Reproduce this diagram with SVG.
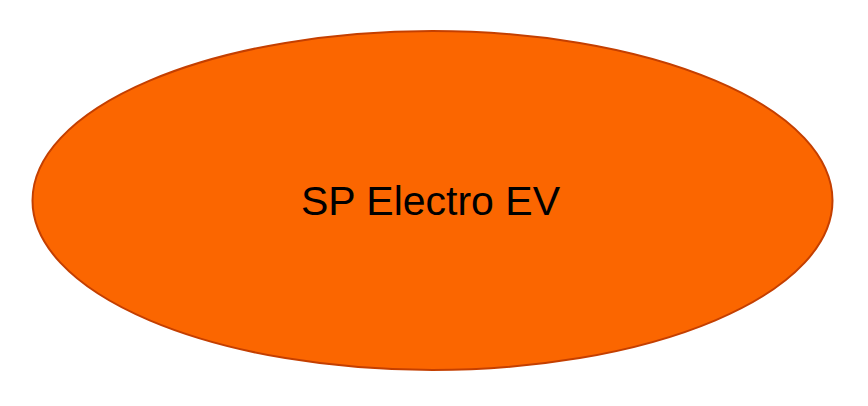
<svg xmlns="http://www.w3.org/2000/svg" width="868" height="406" viewBox="0 0 868 406">
<style>
.node{fill:#fb6600;stroke:#c43f00;stroke-width:2}
.lbl{font-family:"Liberation Sans",Arial,sans-serif;font-size:41px;fill:#000;text-anchor:middle}
</style>
<rect width="868" height="406" fill="#ffffff"/>
<g id="connectors"></g>
<g id="node-sp-electro-ev">
<ellipse class="node" cx="432.5" cy="200.5" rx="400" ry="169.5"/>
<text class="lbl" x="430.5" y="215">SP Electro EV</text>
</g>
</svg>
